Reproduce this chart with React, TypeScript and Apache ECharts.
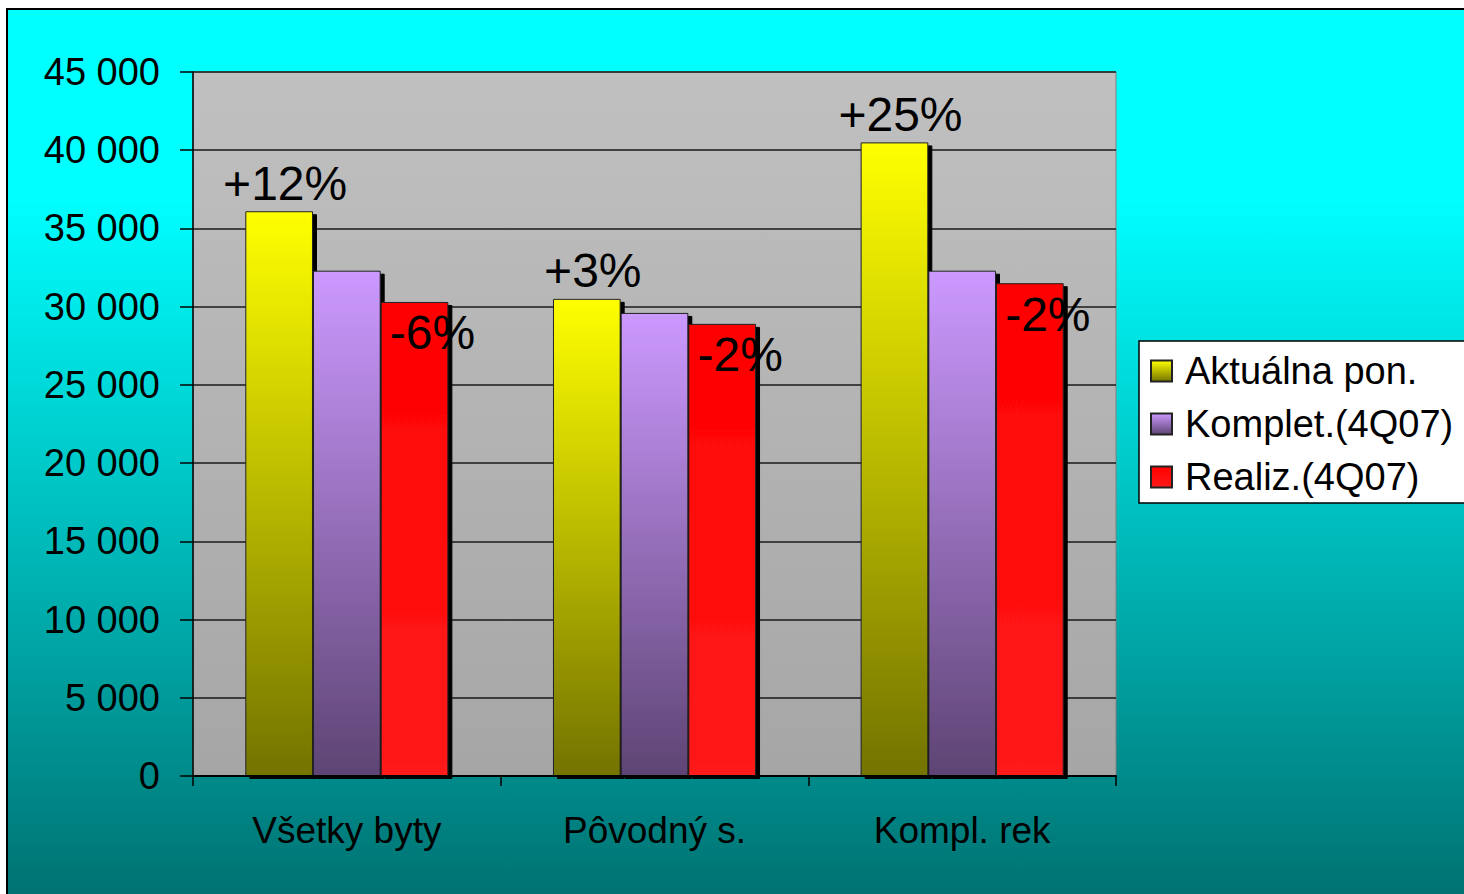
import React, { useEffect, useRef } from "react";
import * as echarts from "echarts";

const categories = ["Všetky byty", "Pôvodný s.", "Kompl. rek"];
const seriesNames = ["Aktuálna pon.", "Komplet.(4Q07)", "Realiz.(4Q07)"];
const aktualna = [36100, 30500, 40500];
const komplet = [32300, 29600, 32300];
const realiz = [30300, 28900, 31500];
const aktualnaLabels = ["+12%", "+3%", "+25%"];
const realizLabels = ["-6%", "-2%", "-2%"];
const yTicks = { min: 0, max: 45000, interval: 5000 };

const FONT = "'Liberation Sans', Arial, sans-serif";

const vgrad = (top: string, bottom: string) =>
  new echarts.graphic.LinearGradient(0, 0, 0, 1, [
    { offset: 0, color: top },
    { offset: 1, color: bottom },
  ]);

export default function App() {
  const ref = useRef<HTMLDivElement>(null);
  useEffect(() => {
    if (!ref.current) return;
    const chart = echarts.init(ref.current, null, { renderer: "svg" });
    const fmt = (v: number) =>
      String(v).replace(/\B(?=(\d{3})+(?!\d))/g, " ");
    const barBase = {
      type: "bar" as const,
      barGap: "0%",
      barCategoryGap: "34%",
    };
    const shadow = {
      borderColor: "#222",
      borderWidth: 1,
      shadowColor: "rgba(0,0,0,1)",
      shadowOffsetX: 4,
      shadowOffsetY: 3,
      shadowBlur: 0,
    };
    chart.setOption({
      animation: false,
      backgroundColor: "#ffffff",
      textStyle: { fontFamily: FONT },
      graphic: [
        {
          type: "rect",
          z: -100,
          silent: true,
          shape: { x: 8, y: 10, width: 1464, height: 900 },
          style: {
            fill: new echarts.graphic.LinearGradient(0, 0, 0, 1, [
              { offset: 0, color: "#00ffff" },
              { offset: 0.21, color: "#00ffff" },
              { offset: 1, color: "#006f6f" },
            ]),
          },
        },
        {
          type: "line",
          z: -90,
          silent: true,
          shape: { x1: 6, y1: 9, x2: 1464, y2: 9 },
          style: { stroke: "#000", lineWidth: 2 },
        },
        {
          type: "line",
          z: -90,
          silent: true,
          shape: { x1: 7, y1: 8, x2: 7, y2: 894 },
          style: { stroke: "#000", lineWidth: 2 },
        },
      ],
      grid: {
        left: 193,
        top: 72,
        width: 923,
        height: 704,
        show: true,
        backgroundColor: vgrad("#c0c0c0", "#a6a6a6"),
        borderColor: "#808080",
        borderWidth: 1,
      },
      legend: {
        orient: "vertical",
        left: 1139,
        top: 341,
        backgroundColor: "#ffffff",
        borderColor: "#000",
        borderWidth: 1.5,
        padding: [11, 14, 7, 11],
        itemWidth: 21,
        itemHeight: 21,
        itemGap: 15,
        icon: "rect",
        data: seriesNames,
        textStyle: {
          fontSize: 38,
          lineHeight: 38,
          color: "#000",
          fontFamily: FONT,
          padding: [0, 0, 0, 8],
        },
      },
      xAxis: {
        type: "category",
        data: categories,
        z: 10,
        axisLine: { lineStyle: { color: "#000", width: 2 } },
        axisTick: { show: true, length: 10, lineStyle: { color: "#000", width: 1.5 } },
        axisLabel: { fontSize: 37, color: "#000", margin: 36, fontFamily: FONT },
      },
      yAxis: {
        type: "value",
        min: yTicks.min,
        max: yTicks.max,
        interval: yTicks.interval,
        axisLine: { show: true, lineStyle: { color: "#000", width: 1.5 } },
        axisTick: { show: true, length: 13, lineStyle: { color: "#000", width: 1.5 } },
        axisLabel: {
          fontSize: 38,
          color: "#000",
          margin: 33,
          fontFamily: FONT,
          formatter: (v: number) => fmt(v),
        },
        splitLine: { show: true, lineStyle: { color: "#1a1a1a", width: 1.5 } },
      },
      series: [
        {
          ...barBase,
          name: seriesNames[0],
          data: aktualna,
          itemStyle: { color: vgrad("#ffff00", "#737300"), ...shadow },
          label: {
            show: true,
            position: "top",
            distance: 4,
            offset: [6, 0],
            fontSize: 48,
            color: "#000",
            fontFamily: FONT,
            formatter: (p: any) => aktualnaLabels[p.dataIndex],
          },
        },
        {
          ...barBase,
          name: seriesNames[1],
          data: komplet,
          itemStyle: { color: vgrad("#cc99ff", "#5e4474"), ...shadow },
        },
        {
          ...barBase,
          name: seriesNames[2],
          data: realiz,
          itemStyle: { color: vgrad("#ff0000", "#ff1a1a"), ...shadow },
          label: {
            show: true,
            position: "insideTop",
            distance: 5,
            offset: [18, 2],
            fontSize: 48,
            color: "#000",
            fontFamily: FONT,
            formatter: (p: any) => realizLabels[p.dataIndex],
          },
        },
      ],
    });
    return () => chart.dispose();
  }, []);
  return (
    <div
      ref={ref}
      style={{ position: "fixed", left: 0, top: 0, width: 1464, height: 894 }}
    />
  );
}
